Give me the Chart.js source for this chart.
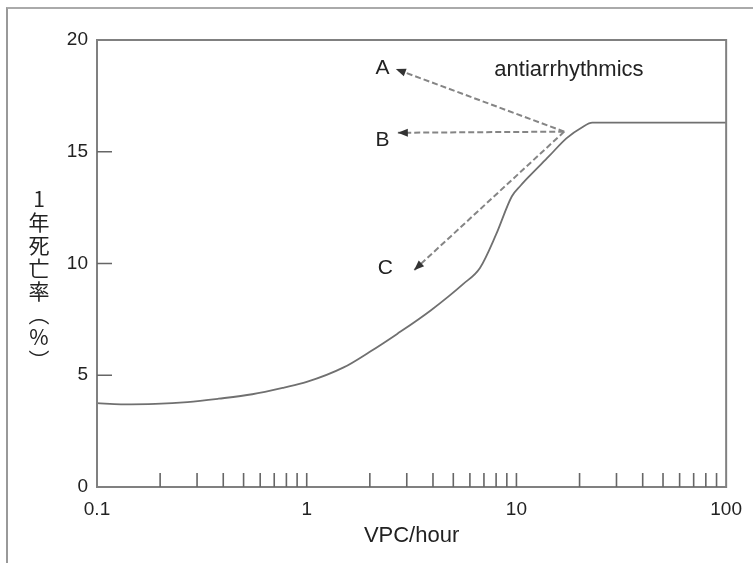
<!DOCTYPE html>
<html>
<head>
<meta charset="utf-8">
<script src="https://cdn.jsdelivr.net/npm/chart.js@4.4.1/dist/chart.umd.min.js"></script>
<style>
  body { margin: 0; background: #fff; }
  #wrap { position: relative; width: 753px; height: 563px; overflow: hidden; }
  #frame { position: absolute; left: 6px; top: 7px; width: 800px; height: 600px; border-top: 2px solid #aaa; border-left: 2px solid #999; }
  #ytitle { position: absolute; left: 28px; top: 189px; writing-mode: vertical-rl; text-orientation: upright; font-family: "Noto Sans CJK JP"; font-size: 21px; line-height: 22px; letter-spacing: 2px; color: #222; }
  canvas { position: absolute; left: 0; top: 0; }
</style>
</head>
<body>
<div id="wrap">
  <div id="frame"></div>
  <canvas id="myChart" width="753" height="563"></canvas>
  <div id="ytitle">1年死亡率（%）</div>
</div>
<script>
'use strict';
// curve
const vpcHour = [0.1, 0.13, 0.19, 0.27, 0.38, 0.55, 0.78, 1.0, 1.5, 2.0, 2.7, 3.9, 5.6, 6.7, 8, 9.5, 10.5, 11.5, 14.3, 17.3, 20.6, 23, 100];
const mortality = [3.75, 3.7, 3.72, 3.8, 3.95, 4.15, 4.45, 4.7, 5.35, 6.05, 6.85, 7.9, 9.1, 9.8, 11.3, 13.0, 13.5, 13.9, 14.8, 15.6, 16.1, 16.3, 16.3];

const xTickValues = [0.1, 1, 10, 100];
const xMinorTicks = [0.2, 0.3, 0.4, 0.5, 0.6, 0.7, 0.8, 0.9, 1, 2, 3, 4, 5, 6, 7, 8, 9, 10, 20, 30, 40, 50, 60, 70, 80, 90];
const yTickValues = [0, 5, 10, 15, 20];

// arrows from one point on the curve
const arrowStartX = 16.9;
const arrowStartY = 15.9;
const arrowNames = ['A', 'B', 'C'];
const arrowEndX = [2.66, 2.72, 3.25];
const arrowEndY = [18.7, 15.85, 9.7];
const arrowLabelX = [2.3, 2.3, 2.37];
const arrowLabelY = [18.75, 15.5, 9.8];
const noteText = 'antiarrhythmics';
const noteX = 17.8;
const noteY = 18.65;

const FONT = '"Liberation Sans", Arial, sans-serif';

const curveData = vpcHour.map((v, i) => ({ x: v, y: mortality[i] }));
const arrowSets = arrowNames.map((name, i) => ({
    label: name,
    data: [{ x: arrowStartX, y: arrowStartY }, { x: arrowEndX[i], y: arrowEndY[i] }],
    borderColor: '#858585',
    borderWidth: 2,
    borderDash: [6, 3],
    pointRadius: 0,
    tension: 0,
}));

const decor = {
    id: 'decor',
    afterDraw: function (chart) {
        const ctx = chart.ctx;
        const a = chart.chartArea;
        const xs = chart.scales.x;
        const ys = chart.scales.y;
        ctx.save();
        // plot box
        ctx.strokeStyle = '#808080';
        ctx.lineWidth = 2;
        ctx.strokeRect(a.left, a.top, a.right - a.left, a.bottom - a.top);
        // inward tick marks
        ctx.lineWidth = 1.6;
        ctx.strokeStyle = '#666';
        ctx.beginPath();
        for (let i = 0; i < xMinorTicks.length; i++) {
            const px = xs.getPixelForValue(xMinorTicks[i]);
            ctx.moveTo(px, a.bottom);
            ctx.lineTo(px, a.bottom - 14);
        }
        for (let i = 1; i < yTickValues.length - 1; i++) {
            const py = ys.getPixelForValue(yTickValues[i]);
            ctx.moveTo(a.left, py);
            ctx.lineTo(a.left + 15, py);
        }
        ctx.stroke();
        // arrow heads
        const sx = xs.getPixelForValue(arrowStartX);
        const sy = ys.getPixelForValue(arrowStartY);
        ctx.fillStyle = '#333';
        for (let i = 0; i < arrowNames.length; i++) {
            const ex = xs.getPixelForValue(arrowEndX[i]);
            const ey = ys.getPixelForValue(arrowEndY[i]);
            const ang = Math.atan2(ey - sy, ex - sx);
            const len = 10;
            const w = 4;
            const bx = ex - len * Math.cos(ang);
            const by = ey - len * Math.sin(ang);
            ctx.beginPath();
            ctx.moveTo(ex, ey);
            ctx.lineTo(bx - w * Math.sin(ang), by + w * Math.cos(ang));
            ctx.lineTo(bx + w * Math.sin(ang), by - w * Math.cos(ang));
            ctx.closePath();
            ctx.fill();
        }
        // labels
        ctx.fillStyle = '#222';
        ctx.textAlign = 'center';
        ctx.textBaseline = 'middle';
        ctx.font = '21px ' + FONT;
        for (let i = 0; i < arrowNames.length; i++) {
            ctx.fillText(arrowNames[i], xs.getPixelForValue(arrowLabelX[i]), ys.getPixelForValue(arrowLabelY[i]));
        }
        ctx.font = '22px ' + FONT;
        ctx.fillText(noteText, xs.getPixelForValue(noteX), ys.getPixelForValue(noteY));
        ctx.restore();
    }
};

new Chart(document.getElementById('myChart'), {
    type: 'line',
    data: {
        datasets: [{
            label: 'mortality',
            data: curveData,
            borderColor: '#707070',
            borderWidth: 1.8,
            pointRadius: 0,
            cubicInterpolationMode: 'monotone',
        }].concat(arrowSets)
    },
    options: {
        responsive: false,
        animation: false,
        layout: { padding: { left: 0, top: 40, right: 25, bottom: 0 } },
        plugins: { legend: { display: false }, tooltip: { enabled: false } },
        scales: {
            x: {
                type: 'logarithmic',
                min: 0.1,
                max: 100,
                grid: { display: false, drawTicks: false },
                border: { display: false },
                afterBuildTicks: function (scale) {
                    scale.ticks = xTickValues.map(v => ({ value: v }));
                },
                afterFit: function (scale) { scale.height = 76; },
                ticks: {
                    padding: 11,
                    color: '#222',
                    font: { family: FONT, size: 19 },
                    maxRotation: 0,
                    autoSkip: false,
                    callback: function (v) { return String(v); }
                },
                title: {
                    display: true,
                    text: 'VPC/hour',
                    color: '#222',
                    font: { family: FONT, size: 22 },
                    padding: { top: 2, bottom: 14 }
                }
            },
            y: {
                type: 'linear',
                min: 0,
                max: 20,
                grid: { display: false, drawTicks: false },
                border: { display: false },
                afterBuildTicks: function (scale) {
                    scale.ticks = yTickValues.map(v => ({ value: v }));
                },
                afterFit: function (scale) { scale.width = 97; },
                ticks: {
                    padding: 9,
                    color: '#222',
                    font: { family: FONT, size: 19 },
                    callback: function (v) { return String(v); }
                }
            }
        }
    },
    plugins: [decor]
});
</script>
</body>
</html>
